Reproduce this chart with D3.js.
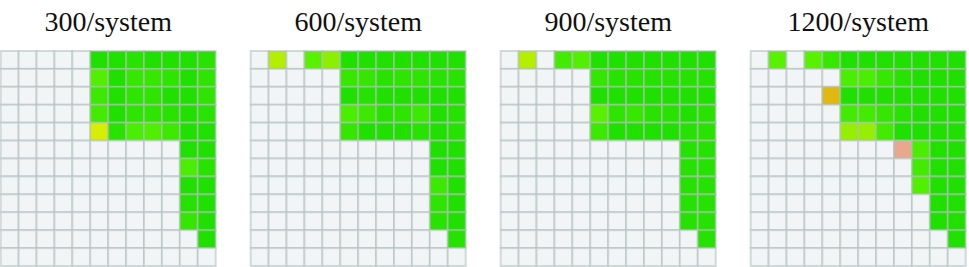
<!DOCTYPE html>
<html>
<head>
<meta charset="utf-8">
<script src="https://cdn.jsdelivr.net/npm/d3@7"></script>
<style>
  html, body { margin: 0; padding: 0; background: #fff; }
  svg { display: block; }
</style>
</head>
<body>
<script>
// panel titles
const titles = ['300/system', '600/system', '900/system', '1200/system']

// cell scores per panel (row by row, 12 x 12), o = empty cell
const o = null
const grid300 = [
  [o, o, o, o, o, 1, 1, .97, 1, 1, 1, .97],
  [o, o, o, o, o, .82, 1, .92, .92, .95, 1, .95],
  [o, o, o, o, o, .9, 1, .95, .95, 1, 1, .95],
  [o, o, o, o, o, .88, 1, .95, .95, .97, 1, .97],
  [o, o, o, o, o, .55, .97, .85, .83, .9, 1, 1],
  [o, o, o, o, o, o, o, o, o, o, 1, 1],
  [o, o, o, o, o, o, o, o, o, o, .85, .97],
  [o, o, o, o, o, o, o, o, o, o, 1, 1],
  [o, o, o, o, o, o, o, o, o, o, .98, 1],
  [o, o, o, o, o, o, o, o, o, o, .93, 1],
  [o, o, o, o, o, o, o, o, o, o, o, 1],
  [o, o, o, o, o, o, o, o, o, o, o, o],
]
const grid600 = [
  [o, .62, o, .8, .7, 1, 1, 1, 1, 1, 1, 1],
  [o, o, o, o, o, .92, .93, .97, .95, .95, .97, .97],
  [o, o, o, o, o, 1, .98, 1, 1, 1, 1, 1],
  [o, o, o, o, o, .85, .9, .97, .95, .9, 1, .98],
  [o, o, o, o, o, .93, 1, 1, 1, .97, 1, .98],
  [o, o, o, o, o, o, o, o, o, o, 1, 1],
  [o, o, o, o, o, o, o, o, o, o, 1, 1],
  [o, o, o, o, o, o, o, o, o, o, .9, 1],
  [o, o, o, o, o, o, o, o, o, o, .95, 1],
  [o, o, o, o, o, o, o, o, o, o, .97, 1],
  [o, o, o, o, o, o, o, o, o, o, o, .98],
  [o, o, o, o, o, o, o, o, o, o, o, o],
]
const grid900 = [
  [o, .62, o, .88, .82, 1, 1, 1, 1, 1, 1, 1],
  [o, o, o, o, o, .93, .97, .97, .98, .98, .98, .98],
  [o, o, o, o, o, 1, 1, 1, 1, 1, 1, 1],
  [o, o, o, o, o, .8, .95, .92, .97, .97, 1, .97],
  [o, o, o, o, o, .9, 1, 1, 1, 1, .98, .97],
  [o, o, o, o, o, o, o, o, o, o, .98, .98],
  [o, o, o, o, o, o, o, o, o, o, .98, .98],
  [o, o, o, o, o, o, o, o, o, o, .98, .98],
  [o, o, o, o, o, o, o, o, o, o, .98, .98],
  [o, o, o, o, o, o, o, o, o, o, .98, .98],
  [o, o, o, o, o, o, o, o, o, o, o, .98],
  [o, o, o, o, o, o, o, o, o, o, o, o],
]
const grid1200 = [
  [o, .8, o, .8, .92, 1, 1, 1, 1, 1, 1, 1],
  [o, o, o, o, o, .85, .85, .92, .97, 1, 1, 1],
  [o, o, o, o, .3, 1, 1, 1, 1, 1, 1, 1],
  [o, o, o, o, o, .88, .88, .93, .97, 1, 1, 1],
  [o, o, o, o, o, .68, .68, .88, 1, 1, 1, 1],
  [o, o, o, o, o, o, o, o, 0, .85, 1, 1],
  [o, o, o, o, o, o, o, o, o, .88, 1, 1],
  [o, o, o, o, o, o, o, o, o, .82, 1, 1],
  [o, o, o, o, o, o, o, o, o, o, 1, 1],
  [o, o, o, o, o, o, o, o, o, o, 1, 1],
  [o, o, o, o, o, o, o, o, o, o, o, 1],
  [o, o, o, o, o, o, o, o, o, o, o, o],
]
const grids = [grid300, grid600, grid900, grid1200]

const W = 969
const H = 267
const panelW = 215
const panelStep = 250
const gridTop = 51

const svg = d3.select('body').append('svg').attr('width', W).attr('height', H)

// 颜色：低分偏红，高分偏绿
const color = d3
  .scaleLinear()
  .domain([0, 0.3, 0.55, 0.8, 1])
  .range(['#e8a890', '#e0b810', '#d8ee00', '#58f200', '#20e000'])
  .clamp(true)

const idx = d3.range(12)
const xScale = d3.scaleBand().domain(idx).range([0, panelW])
const yScale = d3.scaleBand().domain(idx).range([0, panelW])

grids.forEach((grid, p) => {
  const g = svg.append('g').attr('transform', `translate(${0.7 + p * panelStep},${gridTop})`)

  const cells = grid.flatMap((row, r) => row.map((v, c) => ({ r, c, v })))

  g.selectAll('rect.cell')
    .data(cells)
    .join('rect')
    .attr('class', 'cell')
    .attr('x', d => xScale(d.c))
    .attr('y', d => yScale(d.r))
    .attr('width', xScale.bandwidth())
    .attr('height', yScale.bandwidth())
    .attr('fill', d => (d.v === null ? '#f1f5f6' : color(d.v)))
    .attr('stroke', 'rgba(176,190,190,0.55)')
    .attr('stroke-width', 2)

  svg
    .append('text')
    .attr('x', 0.7 + p * panelStep + panelW / 2)
    .attr('y', 31)
    .attr('text-anchor', 'middle')
    .attr('font-family', '"Liberation Serif", "Times New Roman", serif')
    .attr('font-size', 28)
    .attr('fill', '#111')
    .text(titles[p])
})
</script>
</body>
</html>
